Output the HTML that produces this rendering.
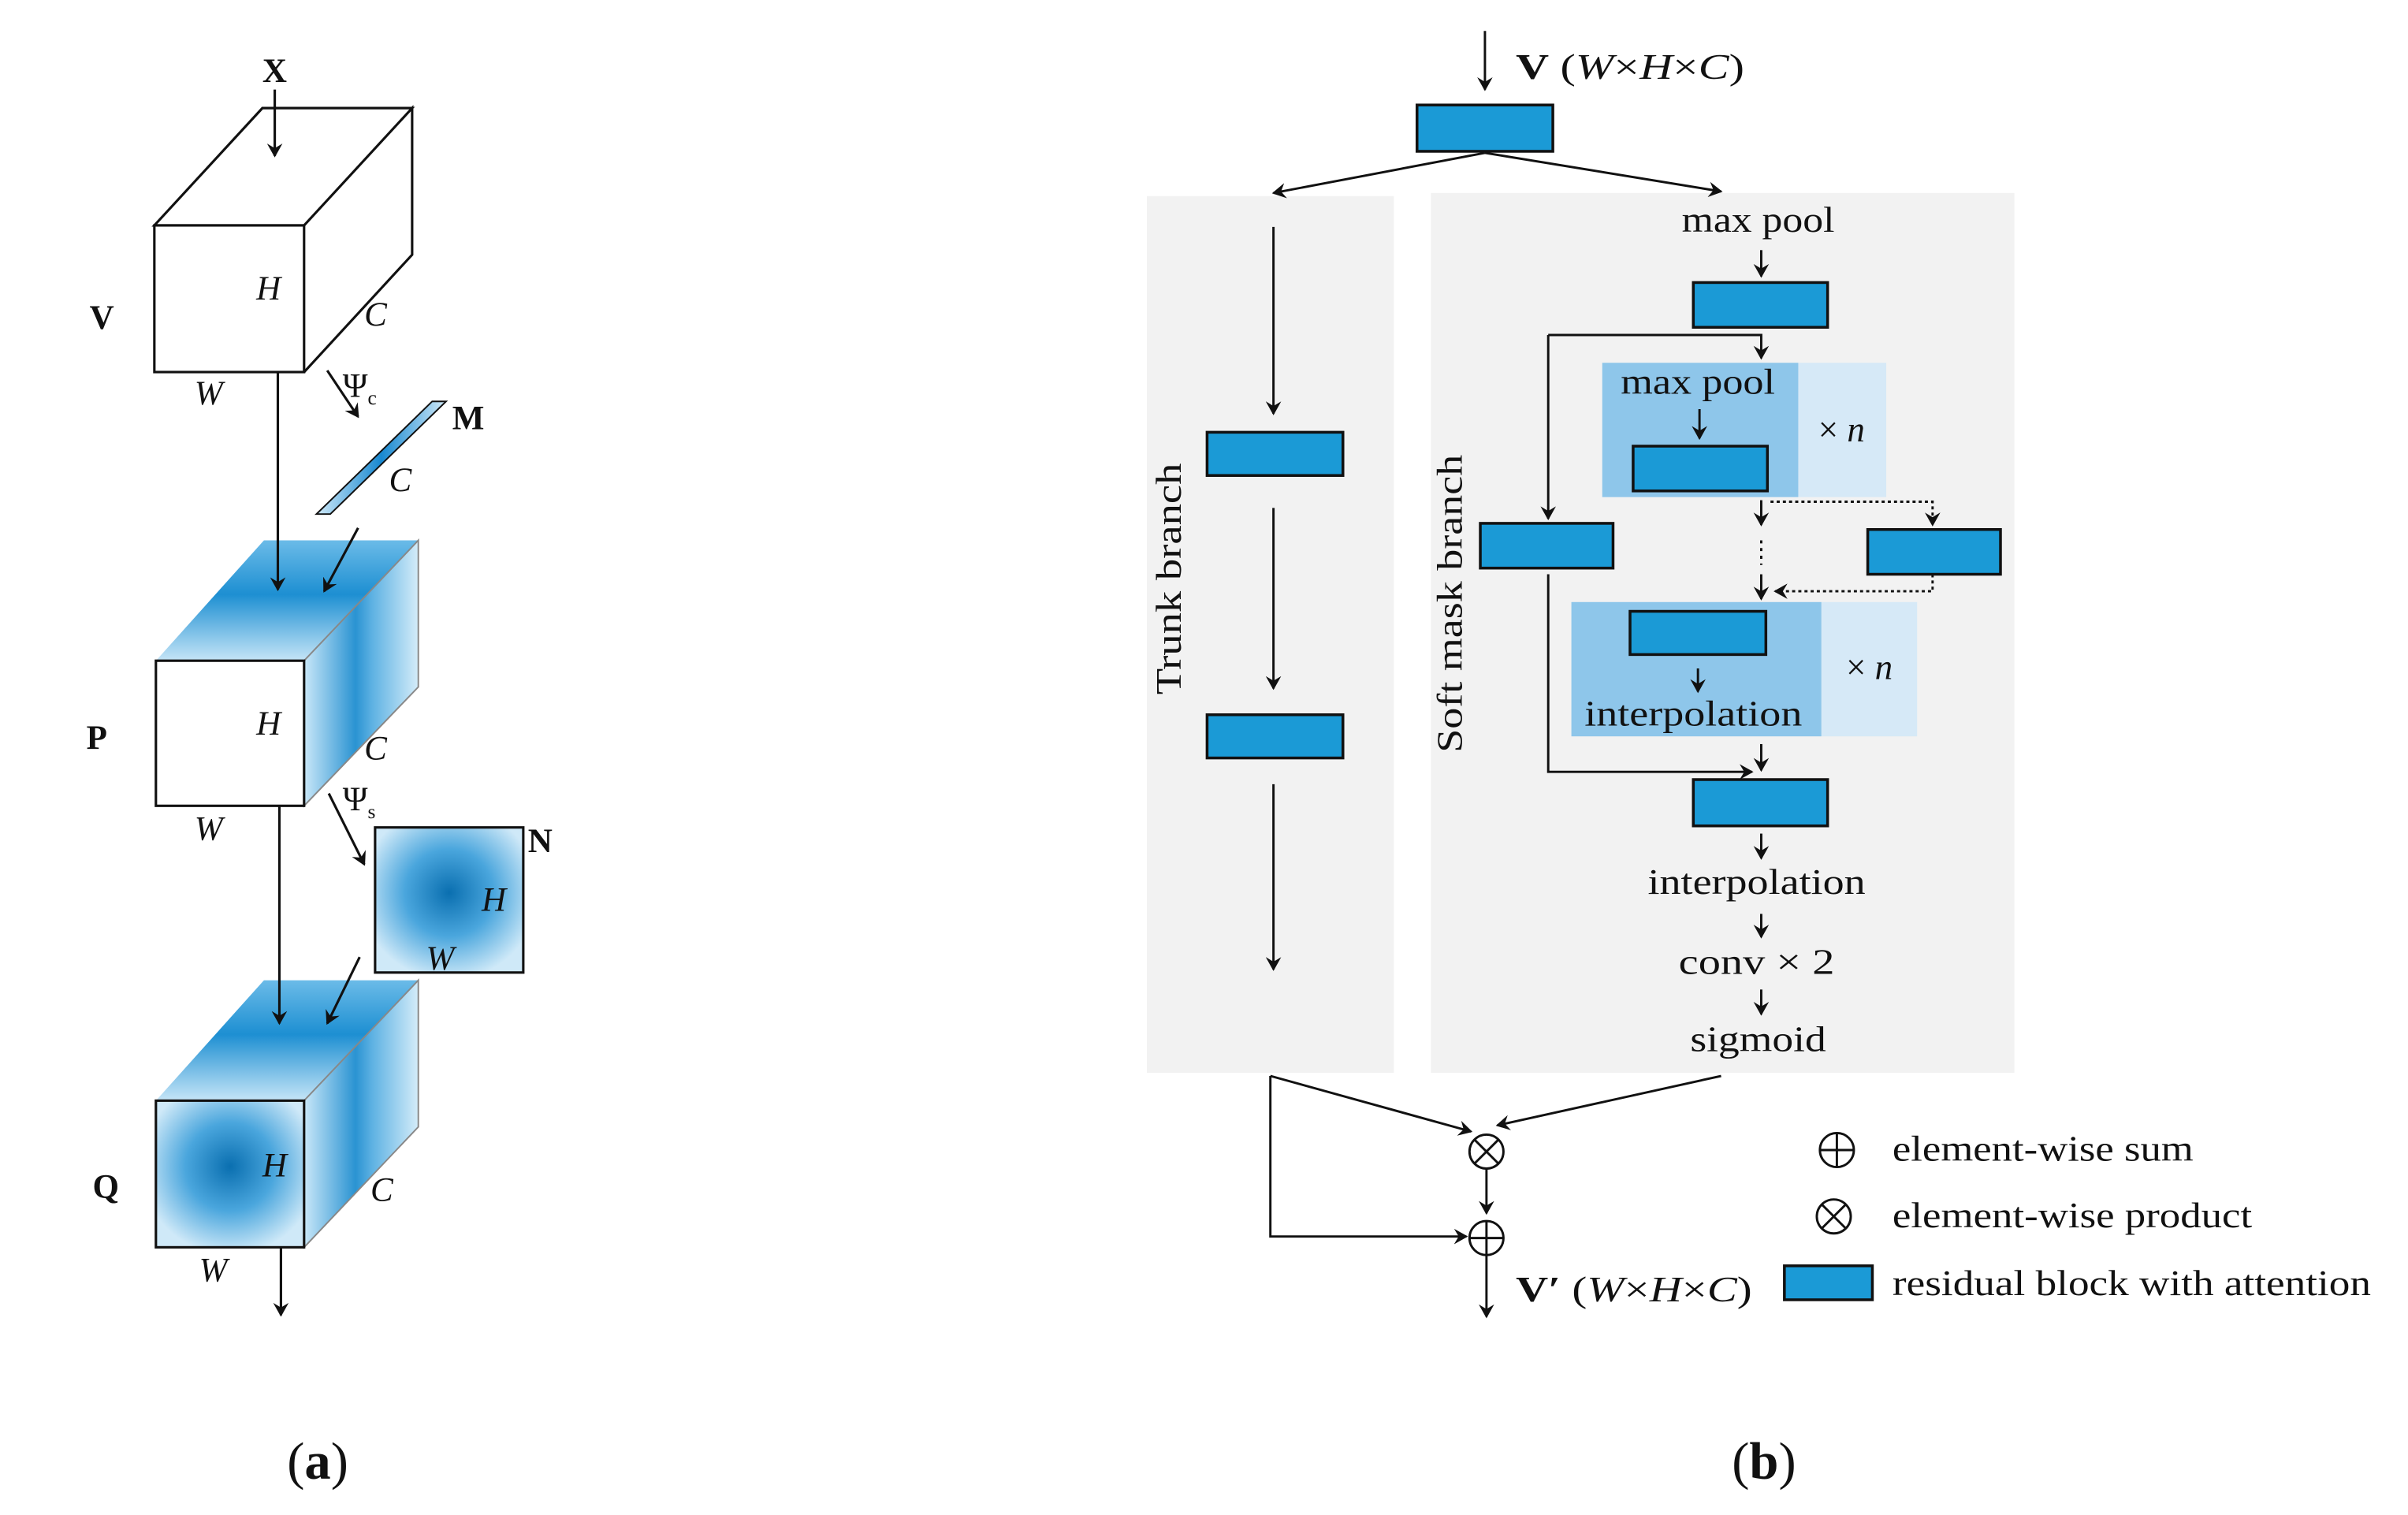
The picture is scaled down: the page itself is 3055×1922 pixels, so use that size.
<!DOCTYPE html>
<html><head><meta charset="utf-8"><style>html,body{margin:0;padding:0;background:#fff}svg{display:block}text{font-family:"Liberation Serif",serif;fill:#111}</style></head><body>
<svg width="3055" height="1922" viewBox="0 0 1560 981.4" xmlns="http://www.w3.org/2000/svg">
<defs>
<marker id="ah" markerWidth="10" markerHeight="10" refX="8" refY="5" orient="auto" markerUnits="userSpaceOnUse"><path d="M0,0 L9,5 L0,10 L3,5 z" fill="#111"/></marker>
<linearGradient id="top" x1="0" y1="0" x2="0" y2="1"><stop offset="0" stop-color="#6bbbe8"/><stop offset="0.45" stop-color="#1d8fd2"/><stop offset="1" stop-color="#c6e5f7"/></linearGradient>
<linearGradient id="side" x1="0" y1="0" x2="1" y2="0"><stop offset="0" stop-color="#c9e7f8"/><stop offset="0.45" stop-color="#2a93d2"/><stop offset="0.6" stop-color="#5fb2e3"/><stop offset="1" stop-color="#d4ecf9"/></linearGradient>
<radialGradient id="rad" cx="0.5" cy="0.45" r="0.6"><stop offset="0" stop-color="#0a6fb0"/><stop offset="0.5" stop-color="#4aa6dd"/><stop offset="1" stop-color="#cfe9f8"/></radialGradient>
<linearGradient id="bar" x1="0" y1="0" x2="1" y2="0"><stop offset="0" stop-color="#cfe9f8"/><stop offset="0.5" stop-color="#1888d0"/><stop offset="1" stop-color="#cfe9f8"/></linearGradient>
</defs>
<g stroke="#111" stroke-width="1.6" fill="none">
<!-- Cube V -->
<path d="M100,146 L170,70 L267,70 L197,146 Z M197,146 L267,70 L267,165 L197,241" fill="#fff"/>
<rect x="100" y="146" width="97" height="95" fill="#fff"/>
<path d="M205,333 L214,333 L289,260 L280,260 Z" fill="url(#bar)" stroke-width="1"/>
<!-- Cube P -->
<path d="M101,428 L171,350 L271,350 L197,428 Z" fill="url(#top)" stroke="none"/>
<path d="M197,428 L271,350 L271,445 L197,522 Z" fill="url(#side)" stroke-width="1" stroke="#888"/>
<rect x="101" y="428" width="96" height="94" fill="#fff"/>
<rect x="243" y="536" width="96" height="94" fill="url(#rad)"/>
<!-- Cube Q -->
<path d="M101,713 L171,635 L271,635 L197,713 Z" fill="url(#top)" stroke="none"/>
<path d="M197,713 L271,635 L271,730 L197,808 Z" fill="url(#side)" stroke-width="1" stroke="#888"/>
<rect x="101" y="713" width="96" height="95" fill="url(#rad)"/>
<!-- arrows -->
<line x1="178" y1="58" x2="178" y2="101" marker-end="url(#ah)"/>
<line x1="180" y1="241" x2="180" y2="382" marker-end="url(#ah)"/>
<line x1="212" y1="240" x2="232" y2="270" marker-end="url(#ah)"/>
<line x1="232" y1="342" x2="210" y2="383" marker-end="url(#ah)"/>
<line x1="213" y1="514" x2="236" y2="560" marker-end="url(#ah)"/>
<line x1="181" y1="522" x2="181" y2="663" marker-end="url(#ah)"/>
<line x1="233" y1="620" x2="212" y2="663" marker-end="url(#ah)"/>
<line x1="182" y1="808" x2="182" y2="852" marker-end="url(#ah)"/>
</g>
<g font-size="22">
<text x="170" y="53" font-weight="bold">X</text>
<text x="58" y="213" font-weight="bold">V</text>
<text x="166" y="194" font-style="italic">H</text>
<text x="236" y="211" font-style="italic" fill="#444">C</text>
<text x="126" y="262" font-style="italic">W</text>
<text x="222" y="257">Ψ<tspan font-size="13" dy="5">c</tspan></text>
<text x="293" y="278" font-weight="bold">M</text>
<text x="252" y="318" font-style="italic" fill="#444">C</text>
<text x="56" y="485" font-weight="bold">P</text>
<text x="166" y="476" font-style="italic">H</text>
<text x="236" y="492" font-style="italic" fill="#444">C</text>
<text x="126" y="544" font-style="italic">W</text>
<text x="222" y="525">Ψ<tspan font-size="13" dy="5">s</tspan></text>
<text x="342" y="552" font-weight="bold">N</text>
<text x="312" y="590" font-style="italic">H</text>
<text x="276" y="628" font-style="italic">W</text>
<text x="60" y="776" font-weight="bold">Q</text>
<text x="170" y="762" font-style="italic">H</text>
<text x="240" y="778" font-style="italic" fill="#444">C</text>
<text x="129" y="830" font-style="italic">W</text>
<text x="186" y="958" font-size="34">(<tspan font-weight="bold">a</tspan>)</text>
<text x="1122" y="958" font-size="34">(<tspan font-weight="bold">b</tspan>)</text>
</g>
<!-- Panel b -->
<g transform="translate(-5,0)">
<rect x="748" y="127" width="160" height="568" fill="#f2f2f2"/>
<rect x="932" y="125" width="378" height="570" fill="#f2f2f2"/>
<rect x="1043" y="235" width="127" height="87" fill="#8ec6ea"/>
<rect x="1170" y="235" width="57" height="87" fill="#d6e9f7"/>
<rect x="1023" y="390" width="162" height="87" fill="#8ec6ea"/>
<rect x="1185" y="390" width="62" height="87" fill="#d6e9f7"/>
<g fill="#1b9ad6" stroke="#111" stroke-width="1.8">
<rect x="923" y="68" width="88" height="30"/>
<rect x="787" y="280" width="88" height="28"/>
<rect x="787" y="463" width="88" height="28"/>
<rect x="1102" y="183" width="87" height="29"/>
<rect x="1063" y="289" width="87" height="29"/>
<rect x="964" y="339" width="86" height="29"/>
<rect x="1215" y="343" width="86" height="29"/>
<rect x="1061" y="396" width="88" height="28"/>
<rect x="1102" y="505" width="87" height="30"/>
<rect x="1161" y="820" width="57" height="22"/>
</g>
<g stroke="#111" stroke-width="1.5" fill="none">
<line x1="967" y1="20" x2="967" y2="58" marker-end="url(#ah)"/>
<line x1="967" y1="99" x2="830" y2="125" marker-end="url(#ah)"/>
<line x1="967" y1="99" x2="1120" y2="124" marker-end="url(#ah)"/>
<line x1="830" y1="147" x2="830" y2="268" marker-end="url(#ah)"/>
<line x1="830" y1="329" x2="830" y2="446" marker-end="url(#ah)"/>
<line x1="830" y1="508" x2="830" y2="628" marker-end="url(#ah)"/>
<line x1="1146" y1="162" x2="1146" y2="179" marker-end="url(#ah)"/>
<path d="M1008,217 L1146,217 L1146,232" marker-end="url(#ah)"/>
<line x1="1008" y1="217" x2="1008" y2="336" marker-end="url(#ah)"/>
<line x1="1106" y1="265" x2="1106" y2="284" marker-end="url(#ah)"/>
<line x1="1146" y1="324" x2="1146" y2="340" marker-end="url(#ah)"/>
<line x1="1146" y1="350" x2="1146" y2="366" stroke-dasharray="2,3"/>
<line x1="1146" y1="372" x2="1146" y2="388" marker-end="url(#ah)"/>
<path d="M1152,325 L1257,325 L1257,340" stroke-dasharray="2,2" marker-end="url(#ah)"/>
<path d="M1257,372 L1257,383 L1155,383" stroke-dasharray="2,2" marker-end="url(#ah)"/>
<line x1="1105" y1="433" x2="1105" y2="448" marker-end="url(#ah)"/>
<line x1="1146" y1="482" x2="1146" y2="499" marker-end="url(#ah)"/>
<path d="M1008,372 L1008,500 L1140,500" marker-end="url(#ah)"/>
<line x1="1146" y1="540" x2="1146" y2="556" marker-end="url(#ah)"/>
<line x1="1146" y1="592" x2="1146" y2="607" marker-end="url(#ah)"/>
<line x1="1146" y1="641" x2="1146" y2="657" marker-end="url(#ah)"/>
<path d="M828,697 L828,801 L955,801" marker-end="url(#ah)"/>
<line x1="828" y1="697" x2="958" y2="733" marker-end="url(#ah)"/>
<line x1="1120" y1="697" x2="975" y2="729" marker-end="url(#ah)"/>
<circle cx="968" cy="746" r="11"/>
<path d="M960,738 L976,754 M976,738 L960,754"/>
<line x1="968" y1="757" x2="968" y2="786" marker-end="url(#ah)"/>
<circle cx="968" cy="802" r="11"/>
<path d="M957,802 L979,802 M968,791 L968,813"/>
<line x1="968" y1="813" x2="968" y2="853" marker-end="url(#ah)"/>
<circle cx="1195" cy="745" r="11"/>
<path d="M1184,745 L1206,745 M1195,734 L1195,756"/>
<circle cx="1193" cy="788" r="11"/>
<path d="M1185,780 L1201,796 M1201,780 L1185,796"/>
</g>
<g font-size="23">
<text x="987" y="51" textLength="148" lengthAdjust="spacingAndGlyphs"><tspan font-weight="bold">V</tspan> (<tspan font-style="italic">W</tspan>×<tspan font-style="italic">H</tspan>×<tspan font-style="italic">C</tspan>)</text>
<text x="770" y="375" transform="rotate(-90 770 375)" text-anchor="middle" textLength="150" lengthAdjust="spacingAndGlyphs">Trunk branch</text>
<text x="952" y="391" transform="rotate(-90 952 391)" text-anchor="middle" textLength="193" lengthAdjust="spacingAndGlyphs">Soft mask branch</text>
<text x="1144" y="150" text-anchor="middle" textLength="99" lengthAdjust="spacingAndGlyphs">max pool</text>
<text x="1105" y="255" text-anchor="middle" textLength="100" lengthAdjust="spacingAndGlyphs">max pool</text>
<text x="1198" y="286" text-anchor="middle">× <tspan font-style="italic">n</tspan></text>
<text x="1102" y="470" text-anchor="middle" textLength="141" lengthAdjust="spacingAndGlyphs">interpolation</text>
<text x="1216" y="440" text-anchor="middle">× <tspan font-style="italic">n</tspan></text>
<text x="1143" y="579" text-anchor="middle" textLength="141" lengthAdjust="spacingAndGlyphs">interpolation</text>
<text x="1143" y="631" text-anchor="middle" textLength="101" lengthAdjust="spacingAndGlyphs">conv × 2</text>
<text x="1144" y="681" text-anchor="middle" textLength="88" lengthAdjust="spacingAndGlyphs">sigmoid</text>
<text x="987" y="843" textLength="153" lengthAdjust="spacingAndGlyphs"><tspan font-weight="bold">V′</tspan> (<tspan font-style="italic">W</tspan>×<tspan font-style="italic">H</tspan>×<tspan font-style="italic">C</tspan>)</text>
<text x="1231" y="752" textLength="195" lengthAdjust="spacingAndGlyphs">element-wise sum</text>
<text x="1231" y="795" textLength="233" lengthAdjust="spacingAndGlyphs">element-wise product</text>
<text x="1231" y="839" textLength="310" lengthAdjust="spacingAndGlyphs">residual block with attention</text>
</g>
</g>
</svg>
</body></html>
